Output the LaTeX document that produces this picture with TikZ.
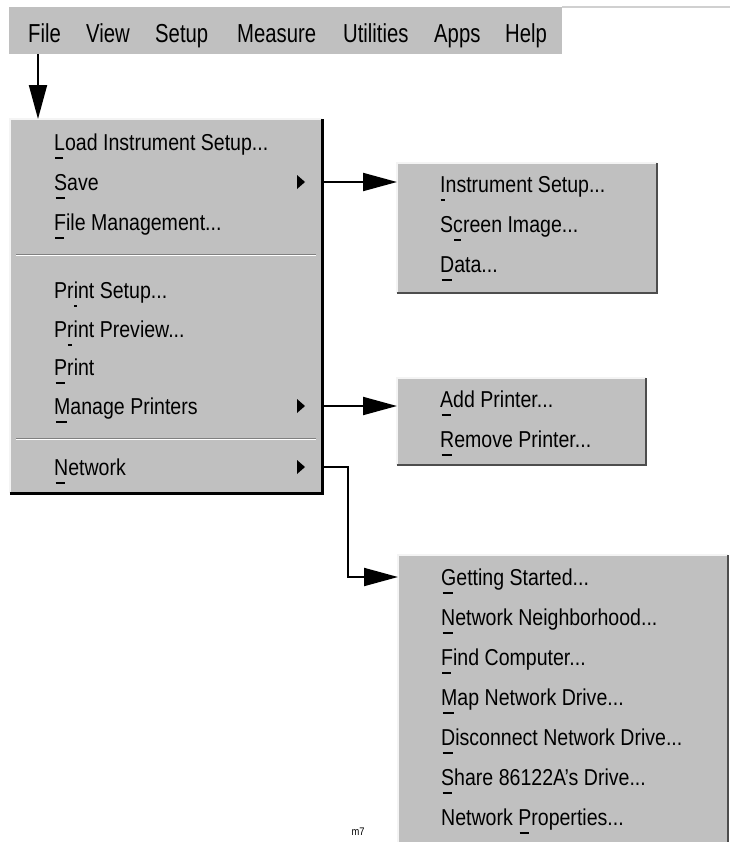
\documentclass[tikz,border=0pt]{standalone}
\usepackage{fontspec}
\setmainfont{Liberation Sans}[FakeStretch=0.85]
\newfontfamily\barfont{Liberation Sans}[FakeStretch=0.78]
\usetikzlibrary{arrows.meta}
\definecolor{menugray}{HTML}{C0C0C0}
\definecolor{hilite}{HTML}{F4F4F4}
\definecolor{shade}{HTML}{808080}
\definecolor{topline}{HTML}{D0D0D0}
\newcommand\mn[1]{\setbox0=\hbox{#1}\rlap{\smash{\hbox to\wd0{\hskip0.1\wd0\rule[-8.5bp]{0.7\wd0}{1.8bp}\hss}}}#1}
\tikzset{
  item/.style={anchor=west, inner sep=0pt, text height=16.5bp, text depth=0bp, font=\fontsize{23bp}{26bp}\selectfont},
  baritem/.style={anchor=west, inner sep=0pt, text height=18.5bp, text depth=0bp, font=\barfont\fontsize{26bp}{30bp}\selectfont},
  conn/.style={line width=2bp, -{Triangle[length=34bp,width=18bp]}},
  mbox/.style={fill=menugray, anchor=north west, inner sep=0pt, draw=none},
  lightedge/.style={draw=hilite, line width=1.6bp},
  darkedge/.style={draw=black, line width=2.4bp},
  subdark/.style={draw=shade!60!black, line width=2bp},
  sepdark/.style={draw=shade, line width=1bp},
  seplight/.style={draw=white, line width=1bp},
  marker/.style={fill=black}
}
\begin{document}
\begin{tikzpicture}[x=1bp,y=-1bp]
\useasboundingbox (0,0) rectangle (730,842);

% ---------- menu bar ----------
\node[mbox, minimum width=553bp, minimum height=47bp] (bar) at (9,7) {};
\coordinate (barend) at (730,7);
\draw[draw=topline, line width=1.5bp] (bar.north east) -- (barend);
\node[baritem] (mfile) at (28,33) {File};
\node[baritem] (mview) at (86,33) {View};
\node[baritem] (msetup) at (155,33) {Setup};
\node[baritem] (mmeasure) at (237,33) {Measure};
\node[baritem] (mutil) at (343,33) {Utilities};
\node[baritem] (mapps) at (434,33) {Apps};
\node[baritem] (mhelp) at (505,33) {Help};

% ---------- main File menu ----------
\node[mbox, minimum width=312bp, minimum height=374bp] (mainbox) at (10,119) {};
\draw[lightedge] (mainbox.south west) -- (mainbox.north west) -- (mainbox.north east);
\draw[darkedge] (mainbox.south west) -- (mainbox.south east) -- (mainbox.north east);
\draw[sepdark] (16,254) -- (316,254);
\draw[seplight] (16,255.2) -- (316,255.2);
\draw[sepdark] (16,438) -- (316,438);
\draw[seplight] (16,439.2) -- (316,439.2);

\node[item] (load) at (54,142) {\mn{L}oad Instrument Setup...};
\node[item] (save) at (54,182) {\mn{S}ave};
\node[item] (fmgmt) at (54,222) {\mn{F}ile Management...};
\node[item] (psetup) at (54,290) {Pr\mn{i}nt Setup...};
\node[item] (pprev) at (54,329) {P\mn{r}int Preview...};
\node[item] (print) at (54,367) {\mn{P}rint};
\node[item] (manage) at (54,406) {\mn{M}anage Printers};
\node[item] (network) at (54,467) {\mn{N}etwork};

\fill[marker] (297,175) -- (305,182) -- (297,189) -- cycle;
\fill[marker] (297,399) -- (305,406) -- (297,413) -- cycle;
\fill[marker] (297,460) -- (305,467) -- (297,474) -- cycle;

% ---------- Save submenu ----------
\node[mbox, minimum width=260bp, minimum height=130bp] (savebox) at (397,163) {};
\draw[lightedge] (savebox.south west) -- (savebox.north west) -- (savebox.north east);
\draw[subdark] (savebox.south west) -- (savebox.south east) -- (savebox.north east);
\node[item] (instsetup) at (440,184) {\mn{I}nstrument Setup...};
\node[item] (screen) at (440,224) {S\mn{c}reen Image...};
\node[item] (data) at (440,264) {\mn{D}ata...};

% ---------- Manage Printers submenu ----------
\node[mbox, minimum width=249bp, minimum height=87bp] (prnbox) at (397,378) {};
\draw[lightedge] (prnbox.south west) -- (prnbox.north west) -- (prnbox.north east);
\draw[subdark] (prnbox.south west) -- (prnbox.south east) -- (prnbox.north east);
\node[item] (addp) at (440,399) {\mn{A}dd Printer...};
\node[item] (remp) at (440,439) {\mn{R}emove Printer...};

% ---------- Network submenu ----------
\node[mbox, minimum width=330bp, minimum height=300bp] (netbox) at (398,555) {};
\draw[lightedge] (netbox.south west) -- (netbox.north west) -- (netbox.north east);
\draw[subdark] (netbox.north east) -- (netbox.south east);
\node[item] (gs) at (441,577) {\mn{G}etting Started...};
\node[item] (nn) at (441,617) {\mn{N}etwork Neighborhood...};
\node[item] (fc) at (441,657) {\mn{F}ind Computer...};
\node[item] (mnd) at (441,697) {\mn{M}ap Network Drive...};
\node[item] (dnd) at (441,737) {\mn{D}isconnect Network Drive...};
\node[item] (share) at (441,777) {\mn{S}hare 86122A's Drive...};
\node[item] (nprop) at (441,817) {Network \mn{P}roperties...};

% ---------- connectors ----------
\coordinate (fa) at (38,54);
\draw[conn] (fa) -- (fa |- mainbox.north);
\draw[conn] (mainbox.east |- save) -- (savebox.west |- save);
\draw[conn] (mainbox.east |- manage) -- (prnbox.west |- manage);
\coordinate (nb) at (348,0);
\draw[conn, line join=miter] (mainbox.east |- network) -| (nb |- gs) -- (netbox.west |- gs);

\node[inner sep=0pt, font=\fontsize{11bp}{13bp}\selectfont] (m7) at (358,832) {m7};
\end{tikzpicture}
\end{document}
